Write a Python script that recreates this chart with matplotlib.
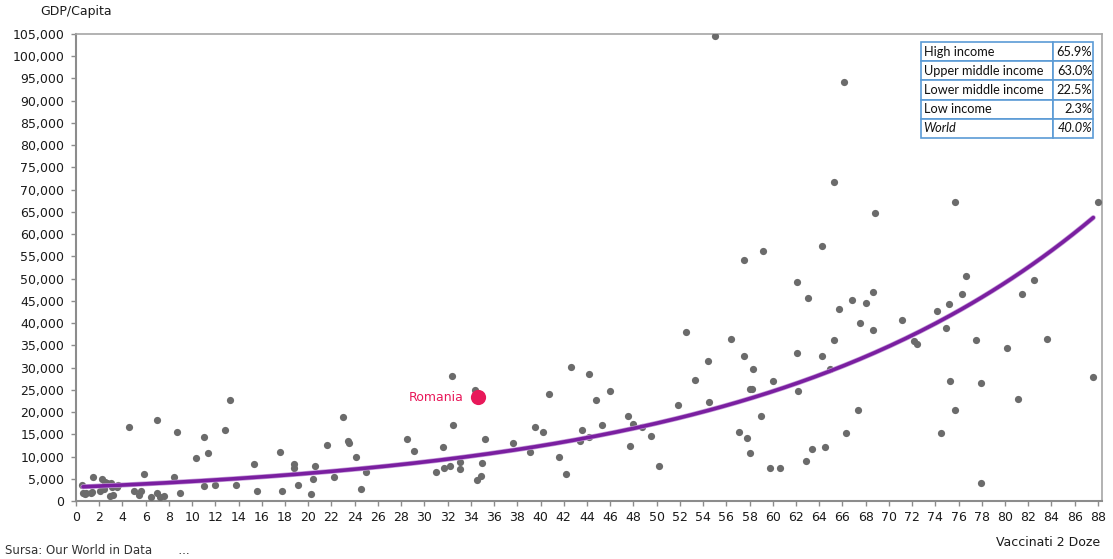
import numpy as np
import matplotlib
matplotlib.use("Agg")
import matplotlib.pyplot as plt
import matplotlib.patheffects as pe
from matplotlib.ticker import FuncFormatter, MultipleLocator

# ---------- data ----------

vacc = [0.5, 0.6, 0.75, 0.9, 1.3, 1.35, 1.5, 2.1, 2.2, 2.4, 2.5, 2.7, 3.0, 2.9, 3.2,
        3.1, 3.5, 3.6, 4.6, 5.0, 5.4, 5.6, 5.85, 6.5, 7.0, 6.95, 7.2, 7.55, 8.4, 8.7,
        8.95, 10.3, 11.0, 11.0, 11.4, 12.0, 12.8, 13.3, 13.8, 15.3, 15.6, 17.6, 17.7,
        18.8, 18.8, 19.1, 20.2, 20.4, 20.6, 21.6, 22.2, 23.0, 23.4, 23.5, 24.1, 24.5,
        25.0, 28.5, 29.1, 31.0, 31.6, 31.7, 32.2, 32.4, 32.5, 33.1, 33.1, 34.4, 34.5,
        34.9, 35.0, 35.2, 37.6, 39.1, 39.5, 40.2, 40.7, 41.6, 42.2, 42.6, 43.4, 43.6,
        44.2, 44.2, 44.8, 45.3, 46.0, 47.5, 47.7, 48.0, 48.7, 49.5, 50.2, 51.8, 52.5,
        53.3, 54.4, 54.5, 55.0, 56.4, 57.1, 57.5, 57.5, 57.8, 58.0, 58.0, 58.2, 58.3,
        59.0, 59.2, 59.8, 60.6, 60.0, 62.1, 62.1, 62.2, 62.9, 63.0, 63.4, 64.2, 64.2,
        64.5, 64.9, 65.3, 65.3, 65.7, 66.1, 66.3, 66.8, 67.3, 67.5, 68.0, 68.6, 68.6,
        68.8, 71.1, 72.2, 72.4, 74.1, 74.5, 74.9, 75.2, 75.3, 75.7, 75.7, 76.3, 76.6,
        77.5, 77.9, 77.9, 80.2, 81.1, 81.5, 82.5, 83.6, 87.6, 88.0]

gdp_k = [3.6, 1.7, 1.6, 1.7, 1.8, 2.1, 5.3, 2.2, 5.0, 2.8, 4.3, 4.0, 4.1, 1.1, 1.4,
         3.1, 3.2, 3.6, 16.7, 2.25, 1.4, 2.2, 6.1, 0.8, 18.1, 1.9, 0.8, 1.1, 5.3, 15.6,
         1.9, 9.6, 14.3, 3.4, 10.7, 3.6, 16.0, 22.8, 3.6, 8.3, 2.25, 11.0, 2.25,
         8.3, 7.5, 3.6, 1.5, 5.0, 7.8, 12.5, 5.3, 18.9, 13.6, 13.1, 10.0, 2.6,
         6.5, 13.9, 11.3, 6.5, 12.1, 7.4, 7.9, 28.0, 17.1, 8.8, 7.1, 25.0, 4.7,
         5.7, 8.5, 13.9, 13.1, 11.0, 16.6, 15.6, 24.1, 10.0, 6.1, 30.1, 13.5, 16.0,
         28.6, 14.4, 22.7, 17.0, 24.8, 19.2, 12.4, 17.4, 16.6, 14.6, 7.9, 21.6, 37.9,
         27.3, 31.5, 22.3, 104.6, 36.4, 15.6, 54.1, 32.5, 14.2, 10.7, 25.2, 25.2, 29.7,
         19.2, 56.2, 7.5, 7.5, 26.9, 49.2, 33.3, 24.8, 8.9, 45.7, 11.7, 57.3, 32.5,
         12.1, 29.7, 36.1, 71.8, 43.2, 94.2, 15.3, 45.3, 20.5, 40.0, 44.5, 47.0, 38.5,
         64.7, 40.8, 35.9, 35.4, 42.8, 15.3, 38.9, 44.2, 26.9, 67.2, 20.5, 46.6, 50.5,
         36.1, 26.5, 4.0, 34.3, 23.0, 46.6, 49.8, 36.4, 27.9, 67.2]

gdp = [v * 1000 for v in gdp_k]

romania_x = 34.6
romania_y = 23300

# Excel exponential trendline y = a * exp(b * x), coefficients
trend_a = 3130
trend_b = 0.0344
trend_range = (0.6, 87.6)

table_rows = ["High income", "Upper middle income", "Lower middle income",
              "Low income", "World"]
table_vals = ["65.9%", "63.0%", "22.5%", "2.3%", "40.0%"]

# ---------- figure ----------

fig = plt.figure(figsize=(11.13, 5.59), dpi=100)
ax = fig.add_axes([76 / 1113, 1 - 501 / 559, 1026 / 1113, 467 / 559])

ax.scatter(vacc, gdp, s=27, color="#6b6b6b", zorder=3, linewidths=0)

xt = np.linspace(trend_range[0], trend_range[1], 200)
yt = trend_a * np.exp(trend_b * xt)
ax.plot(xt, yt, color="#7a1fa0", lw=2.6, zorder=4, solid_capstyle="round",
        path_effects=[pe.Stroke(linewidth=3.6, foreground="#c49ad8"), pe.Normal()])

ax.scatter([romania_x], [romania_y], s=120, color="#e8195a", zorder=5, linewidths=0)
ax.annotate("Romania", (romania_x, romania_y), xytext=(-10, 0),
            textcoords="offset points", ha="right", va="center",
            color="#e8195a", fontsize=9)

ax.set_xlim(0, 88.35)
ax.set_ylim(0, 105000)
ax.set_xticks(range(0, 89, 2))
ax.yaxis.set_major_locator(MultipleLocator(5000))
ax.yaxis.set_major_formatter(FuncFormatter(lambda v, p: f"{int(v):,}"))

for side in ["left", "bottom"]:
    ax.spines[side].set_color("#8c8c8c")
    ax.spines[side].set_linewidth(1.5)
for side in ["top", "right"]:
    ax.spines[side].set_color("#a6a6a6")
    ax.spines[side].set_linewidth(1.2)

ax.tick_params(axis="both", direction="out", length=3.5, width=1, color="#8c8c8c",
               labelsize=9, labelcolor="#1a1a1a")
ax.tick_params(axis="y", pad=5)
ax.tick_params(axis="x", pad=4)

fig.text(40 / 1113, 1 - 12 / 559, "GDP/Capita", fontsize=9, color="#1a1a1a",
         ha="left", va="center")
fig.text(1100 / 1113, 1 - 542 / 559, "Vaccinati 2 Doze", fontsize=9,
         color="#1a1a1a", ha="right", va="center")
fig.text(5 / 1113, 1 - 551 / 559, "Sursa: Our World in Data       ...", fontsize=8.5,
         color="#333333", ha="left", va="center")

# income-group table
tbl = ax.table(cellText=[[r, v] for r, v in zip(table_rows, table_vals)],
               colWidths=[132 / 172, 40 / 172],
               bbox=[(921 - 76) / 1026, (501 - 138) / 467, 172 / 1026, 96 / 467],
               zorder=6)
tbl.auto_set_font_size(False)
for (r, c), cell in tbl.get_celld().items():
    cell.set_edgecolor("#5b9bd5")
    cell.set_linewidth(1.2)
    cell.set_facecolor("white")
    cell.PAD = 0.02
    txt = cell.get_text()
    txt.set_fontfamily("Lato")
    txt.set_fontsize(9.2)
    txt.set_color("#111111")
    txt.set_ha("left" if c == 0 else "right")
    if r == 4:
        txt.set_fontstyle("italic")

fig.savefig("out.png", dpi=100)
